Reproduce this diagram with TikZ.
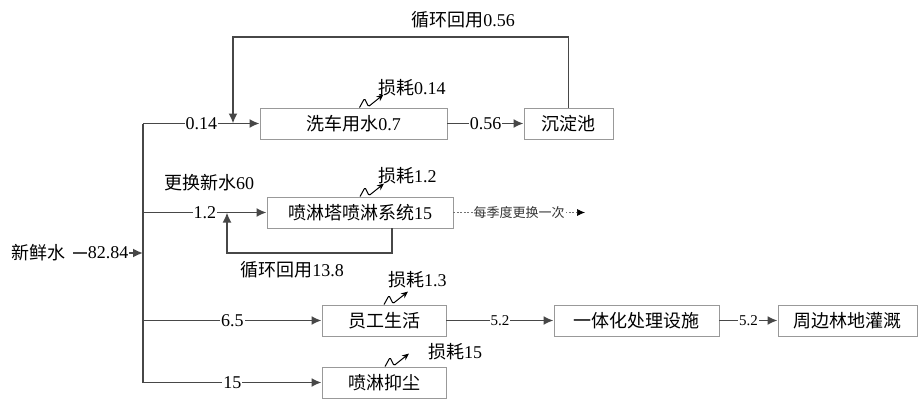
\documentclass[tikz,border=0pt]{standalone}
\usepackage{fontspec}
\setmainfont{Liberation Serif}
\newfontfamily\cjk{Noto Sans CJK SC}
\usetikzlibrary{arrows.meta}

\tikzset{
	flowbox/.style={draw=black!40,line width=0.9pt,minimum height=31pt,inner sep=0pt,font=\fontsize{18}{20}\selectfont},
	pipe/.style={draw=black!72,line width=1.8pt},
	flowtip/.style={-{Latex[length=10pt,width=9pt]}},
	flowlbl/.style={fill=white,inner sep=1pt,font=\fontsize{18}{20}\selectfont},
	smalllbl/.style={fill=white,inner sep=1pt,font=\fontsize{15}{17}\selectfont},
	lossline/.style={draw=black,line width=1pt,rounded corners=1.2pt,-{Stealth[length=7pt,width=6pt]}},
	plaintxt/.style={inner sep=0pt,font=\fontsize{18}{20}\selectfont}
}

\begin{document}
\begin{tikzpicture}[x=1pt,y=-1pt]

	\useasboundingbox (0,0) rectangle (918,399);

	% boxes
	\node[flowbox,minimum width=187pt] (wash)   at (353.5,123.5) {{\cjk 洗车用水}0.7};
	\node[flowbox,minimum width=89pt]  (settle) at (568.5,123.5) {\cjk 沉淀池};
	\node[flowbox,minimum width=186pt] (tower)  at (360,212.5)   {{\cjk 喷淋塔喷淋系统}15};
	\node[flowbox,minimum width=124pt] (staff)  at (384,320.5)   {\cjk 员工生活};
	\node[flowbox,minimum width=124pt] (dust)   at (384,382.5)   {\cjk 喷淋抑尘};
	\node[flowbox,minimum width=165pt] (treat)  at (636.5,320.5) {\cjk 一体化处理设施};
	\node[flowbox,minimum width=139pt] (irrig)  at (847.5,320.5) {\cjk 周边林地灌溉};

	\node[plaintxt] (fresh) at (38,253) {\cjk 新鲜水};

	% main pipe
	\coordinate (bus1) at (143,123.5);
	\coordinate (bus2) at (143,212.5);
	\coordinate (bus3) at (143,253);
	\coordinate (bus4) at (143,320.5);
	\coordinate (bus5) at (143,382.5);
	\draw[pipe] (bus1) -- (bus5);
	\draw[pipe,flowtip] ([xshift=8pt]fresh.east) -- node[flowlbl] {82.84} (bus3);

	\draw[pipe,flowtip] (bus1) -- node[flowlbl] {0.14} (wash.west);
	\draw[pipe,flowtip] (bus2) -- node[flowlbl] {1.2}  (tower.west);
	\draw[pipe,flowtip] (bus4) -- node[flowlbl] {6.5}  (staff.west);
	\draw[pipe,flowtip] (bus5) -- node[flowlbl] {15}   (dust.west);

	\draw[pipe,flowtip] (wash.east)  -- node[flowlbl] {0.56} (settle.west);
	\draw[pipe,flowtip] (staff.east) -- node[smalllbl] {5.2} (treat.west);
	\draw[pipe,flowtip] (treat.east) -- node[smalllbl] {5.2} (irrig.west);

	% recycling loops
	\coordinate (wtop) at (233,37);
	\coordinate (wret) at (233,123.5);
	\draw[pipe,flowtip] (settle.north) |- (wtop) -- (wret);
	\node[plaintxt] (wloop) at (463,20) {{\cjk 循环回用}0.56};

	\coordinate (tbot) at (227,253);
	\coordinate (tret) at (227,212.5);
	\draw[pipe,flowtip] ([xshift=32pt]tower.south) |- (tbot) -- (tret);
	\node[plaintxt] (tloop) at (292,270) {{\cjk 循环回用}13.8};
	\node[plaintxt] (renew) at (209,183) {{\cjk 更换新水}60};

	% quarterly exchange
	\coordinate (quarter) at (585,212.5);
	\draw[draw=black!55,line width=0.7pt,dash pattern=on 2pt off 1.5pt,-{Latex[length=8pt,width=7pt,black]}]
		(tower.east) -- node[fill=white,inner sep=1pt,font=\fontsize{13}{15}\selectfont,text=black!80] {\cjk 每季度更换一次} (quarter);

	% losses
	\draw[lossline] ([xshift=6pt]wash.north) -- ++(5,-9) -- ++(4,8) -- ++(15,-12);
	\node[plaintxt,anchor=west] (wloss) at (378,88) {{\cjk 损耗}0.14};

	\draw[lossline] (tower.north) -- ++(5,-9) -- ++(4,8) -- ++(15,-12);
	\node[plaintxt,anchor=west] (tloss) at (378,176) {{\cjk 损耗}1.2};

	\draw[lossline] (staff.north) -- ++(5,-9) -- ++(4,8) -- ++(15,-12);
	\node[plaintxt,anchor=west] (sloss) at (388,280) {{\cjk 损耗}1.3};

	\draw[lossline] ([xshift=1pt]dust.north) -- ++(5,-9) -- ++(4,8) -- ++(15,-12);
	\node[plaintxt,anchor=west] (dloss) at (428,352) {{\cjk 损耗}15};

\end{tikzpicture}
\end{document}
